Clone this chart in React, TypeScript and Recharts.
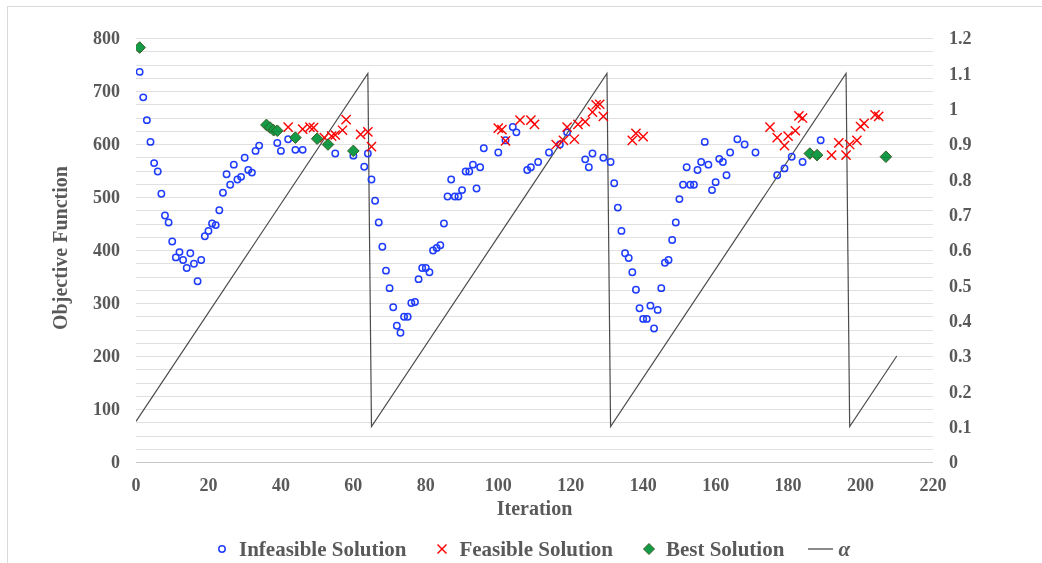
import { ComposedChart, Scatter, Line, XAxis, YAxis } from "recharts";

const FONT = '"Liberation Serif", "Times New Roman", serif';
const TEXT = "#595959";
const BLUE = "#1f3dff";
const RED = "#ff0000";
const GREEN = "#149b47";
const GREEN_EDGE = "#3a5f24";
const ALPHA = "#4d4d4d";

// [iteration, objective]
const infeasible: [number, number][] = [
  [1, 736], [2, 688], [3, 645], [4, 604], [5, 564], [6, 548], [7, 506], [8, 465], [9, 452], [10, 416],
  [11, 386], [12, 396], [13, 381], [14, 366], [15, 394], [16, 374], [17, 341], [18, 381], [19, 426], [20, 436],
  [21, 450], [22, 447], [23, 475], [24, 508], [25, 543], [26, 523], [27, 561], [28, 533], [29, 538], [30, 574],
  [31, 551], [32, 546], [33, 587], [34, 597], [39, 602], [40, 587], [42, 609], [44, 589], [46, 589], [55, 582],
  [60, 578], [63, 557], [64, 582], [65, 533], [66, 493], [67, 452], [68, 406], [69, 361], [70, 328], [71, 292],
  [72, 257], [73, 244], [74, 274], [75, 274], [76, 300], [77, 302], [78, 345], [79, 366], [80, 366], [81, 358],
  [82, 399], [83, 404], [84, 409], [85, 450], [86, 501], [87, 533], [88, 501], [89, 501], [90, 513], [91, 548],
  [92, 548], [93, 561], [94, 516], [95, 556], [96, 592], [100, 584], [102, 607], [104, 632], [105, 622], [108, 551],
  [109, 556], [111, 566], [114, 584], [117, 599], [119, 622], [124, 571], [125, 556], [126, 582], [129, 574], [131, 566],
  [132, 526], [133, 480], [134, 436], [135, 394], [136, 385], [137, 358], [138, 325], [139, 290], [140, 270], [141, 270],
  [142, 295], [143, 252], [144, 287], [145, 328], [146, 376], [147, 381], [148, 419], [149, 452], [150, 496], [151, 523],
  [152, 556], [153, 523], [154, 523], [155, 551], [156, 566], [157, 604], [158, 561], [159, 513], [160, 528], [161, 572],
  [162, 566], [163, 541], [164, 584], [166, 609], [168, 599], [171, 584], [177, 541], [179, 554], [181, 576], [184, 566],
  [189, 607],
];

const feasible: [number, number][] = [
  [42, 632], [46, 628], [48, 632], [49, 631], [52, 612], [54, 615], [55, 617], [57, 626], [58, 646], [62, 618],
  [64, 623], [65, 595], [100, 630], [101, 627], [102, 606], [106, 645], [109, 645], [110, 637], [116, 599], [118, 607],
  [119, 632], [121, 609], [122, 637], [124, 642], [126, 660], [127, 674], [128, 675], [129, 652], [137, 607], [138, 620],
  [140, 614], [175, 632], [177, 612], [179, 597], [180, 615], [182, 625], [183, 653], [184, 649], [192, 579], [194, 602],
  [196, 579], [197, 599], [199, 607], [200, 633], [201, 639], [204, 655], [205, 652],
];

const best: [number, number][] = [
  [1, 782], [36, 636], [37, 631], [38, 626], [39, 625], [44, 612], [50, 610], [53, 599], [60, 587],
  [186, 582], [188, 579], [207, 576],
];

const alphaIter = [0, 64, 65, 130, 131, 196, 197, 210];
const alphaValue = [0.115, 1.1, 0.1, 1.1, 0.1, 1.1, 0.1, 0.3];

const xTicks = [0, 20, 40, 60, 80, 100, 120, 140, 160, 180, 200, 220];
const leftTicks = [0, 100, 200, 300, 400, 500, 600, 700, 800];
const rightTicks = [0, 0.1, 0.2, 0.3, 0.4, 0.5, 0.6, 0.7, 0.8, 0.9, 1, 1.1, 1.2];
const LEFT_MAX = 800;
const gridValues = Array.from({ length: 33 }, (_, i) => i * 25);

// layout
const W = 1042;
const H = 563;
const M_TOP = 38;
const M_BOTTOM = 41;
const X_AXIS_H = 60;
const LEFT_W = 136;
const RIGHT_W = 109;
const PLOT_H = H - M_TOP - M_BOTTOM - X_AXIS_H;

const toPoints = (pairs: [number, number][]) => pairs.map(([x, y]) => ({ x, y }));
const alphaData = alphaIter.map((x, i) => ({ x, a: alphaValue[i] }));

const tickStyle = { fill: TEXT, fontFamily: FONT, fontSize: 18, fontWeight: 700 };

function CircleMark(props: any) {
  const { cx, cy } = props;
  if (cx == null || cy == null) return null;
  return <circle cx={cx} cy={cy} r={3.2} fill="none" stroke={BLUE} strokeWidth={1.5} />;
}

function CrossMark(props: any) {
  const { cx, cy } = props;
  if (cx == null || cy == null) return null;
  const d = 4.6;
  return (
    <g stroke={RED} strokeWidth={1.4}>
      <line x1={cx - d} y1={cy - d} x2={cx + d} y2={cy + d} />
      <line x1={cx - d} y1={cy + d} x2={cx + d} y2={cy - d} />
    </g>
  );
}

function DiamondMark(props: any) {
  const { cx, cy } = props;
  if (cx == null || cy == null) return null;
  const d = 5.8;
  return (
    <polygon
      points={`${cx},${cy - d} ${cx + d},${cy} ${cx},${cy + d} ${cx - d},${cy}`}
      fill={GREEN}
      stroke={GREEN_EDGE}
      strokeWidth={1}
    />
  );
}

// light horizontal gridlines every 25, multiplied over the plot so they read as "behind"
function GridOverlay() {
  const x1 = LEFT_W;
  const x2 = W - RIGHT_W;
  return (
    <svg
      width={W}
      height={H}
      style={{ position: "absolute", left: 0, top: 0, pointerEvents: "none", mixBlendMode: "multiply" }}
      shapeRendering="crispEdges"
    >
      {gridValues.map((v) => {
        const y = Math.round(M_TOP + PLOT_H * (1 - v / LEFT_MAX)) + 0.5;
        return (
          <line key={v} x1={x1} x2={x2} y1={y} y2={y} stroke={v === 0 ? "#c6c6c6" : "#e0e0e0"} strokeWidth={1} />
        );
      })}
    </svg>
  );
}

function LegendRow() {
  const label = { marginLeft: 11 } as const;
  return (
    <div
      style={{
        position: "absolute",
        left: 216,
        top: 537,
        display: "flex",
        alignItems: "center",
        fontFamily: FONT,
        fontWeight: 700,
        fontSize: 21,
        lineHeight: "24px",
        color: TEXT,
        whiteSpace: "nowrap",
      }}
    >
      <svg width={12} height={12}>
        <circle cx={6} cy={6} r={3.2} fill="none" stroke={BLUE} strokeWidth={1.5} />
      </svg>
      <span style={label}>Infeasible Solution</span>
      <svg width={12} height={12} style={{ marginLeft: 30 }}>
        <g stroke={RED} strokeWidth={1.4}>
          <line x1={1.5} y1={1.5} x2={10.5} y2={10.5} />
          <line x1={1.5} y1={10.5} x2={10.5} y2={1.5} />
        </g>
      </svg>
      <span style={label}>Feasible Solution</span>
      <svg width={12} height={12} style={{ marginLeft: 30 }}>
        <polygon points="6,0.5 11.5,6 6,11.5 0.5,6" fill={GREEN} stroke={GREEN_EDGE} strokeWidth={1} />
      </svg>
      <span style={label}>Best Solution</span>
      <svg width={25} height={10} style={{ marginLeft: 24 }}>
        <line x1={0} y1={5} x2={25} y2={5} stroke={ALPHA} strokeWidth={1.3} />
      </svg>
      <span style={{ marginLeft: 5, fontStyle: "italic" }}>α</span>
    </div>
  );
}

export default function App() {
  return (
    <div style={{ position: "absolute", left: 0, top: 0, width: W, height: H, background: "#fff", overflow: "hidden" }}>
      <div
        style={{
          position: "absolute",
          left: 7,
          top: 6,
          width: W - 7,
          height: H - 6,
          borderLeft: "1px solid #d9d9d9",
          borderTop: "1px solid #d9d9d9",
          boxSizing: "border-box",
        }}
      />
      <div style={{ position: "absolute", left: 0, top: 0 }}>
        <ComposedChart width={W} height={H} margin={{ top: M_TOP, right: 0, bottom: M_BOTTOM, left: 0 }}>
          <XAxis
            type="number"
            dataKey="x"
            domain={[0, 220]}
            ticks={xTicks}
            interval={0}
            axisLine={false}
            tickLine={false}
            tickSize={0}
            tickMargin={16}
            height={X_AXIS_H}
            tick={tickStyle}
            allowDataOverflow
            label={{
              content: ({ viewBox }: any) => (
                <text
                  x={viewBox.x + viewBox.width / 2}
                  y={viewBox.y + 53}
                  textAnchor="middle"
                  fill={TEXT}
                  fontFamily={FONT}
                  fontSize={20}
                  fontWeight={700}
                >
                  Iteration
                </text>
              ),
            }}
          />
          <YAxis
            yAxisId="left"
            type="number"
            domain={[0, LEFT_MAX]}
            ticks={leftTicks}
            interval={0}
            width={LEFT_W}
            axisLine={false}
            tickLine={false}
            tickSize={0}
            tickMargin={16}
            tick={tickStyle}
            allowDataOverflow
            label={{
              content: ({ viewBox }: any) => {
                const x = viewBox.x + 67;
                const y = viewBox.y + viewBox.height / 2 - 2;
                return (
                  <text
                    x={x}
                    y={y}
                    transform={`rotate(-90 ${x} ${y})`}
                    textAnchor="middle"
                    fill={TEXT}
                    fontFamily={FONT}
                    fontSize={20}
                    fontWeight={700}
                  >
                    Objective Function
                  </text>
                );
              },
            }}
          />
          <YAxis
            yAxisId="right"
            orientation="right"
            type="number"
            domain={[0, 1.2]}
            ticks={rightTicks}
            interval={0}
            width={RIGHT_W}
            axisLine={false}
            tickLine={false}
            tickSize={0}
            tickMargin={16}
            tick={tickStyle}
            tickFormatter={(v: number) => String(+v.toFixed(1))}
            allowDataOverflow
          />
          <Scatter
            yAxisId="left"
            name="Infeasible Solution"
            data={toPoints(infeasible)}
            dataKey="y"
            shape={CircleMark}
            isAnimationActive={false}
          />
          <Scatter
            yAxisId="left"
            name="Feasible Solution"
            data={toPoints(feasible)}
            dataKey="y"
            shape={CrossMark}
            isAnimationActive={false}
          />
          <Scatter
            yAxisId="left"
            name="Best Solution"
            data={toPoints(best)}
            dataKey="y"
            shape={DiamondMark}
            isAnimationActive={false}
          />
          <Line
            yAxisId="right"
            name="α"
            data={alphaData}
            dataKey="a"
            type="linear"
            stroke={ALPHA}
            strokeWidth={1.2}
            dot={false}
            activeDot={false}
            isAnimationActive={false}
          />
        </ComposedChart>
      </div>
      <GridOverlay />
      <LegendRow />
    </div>
  );
}
